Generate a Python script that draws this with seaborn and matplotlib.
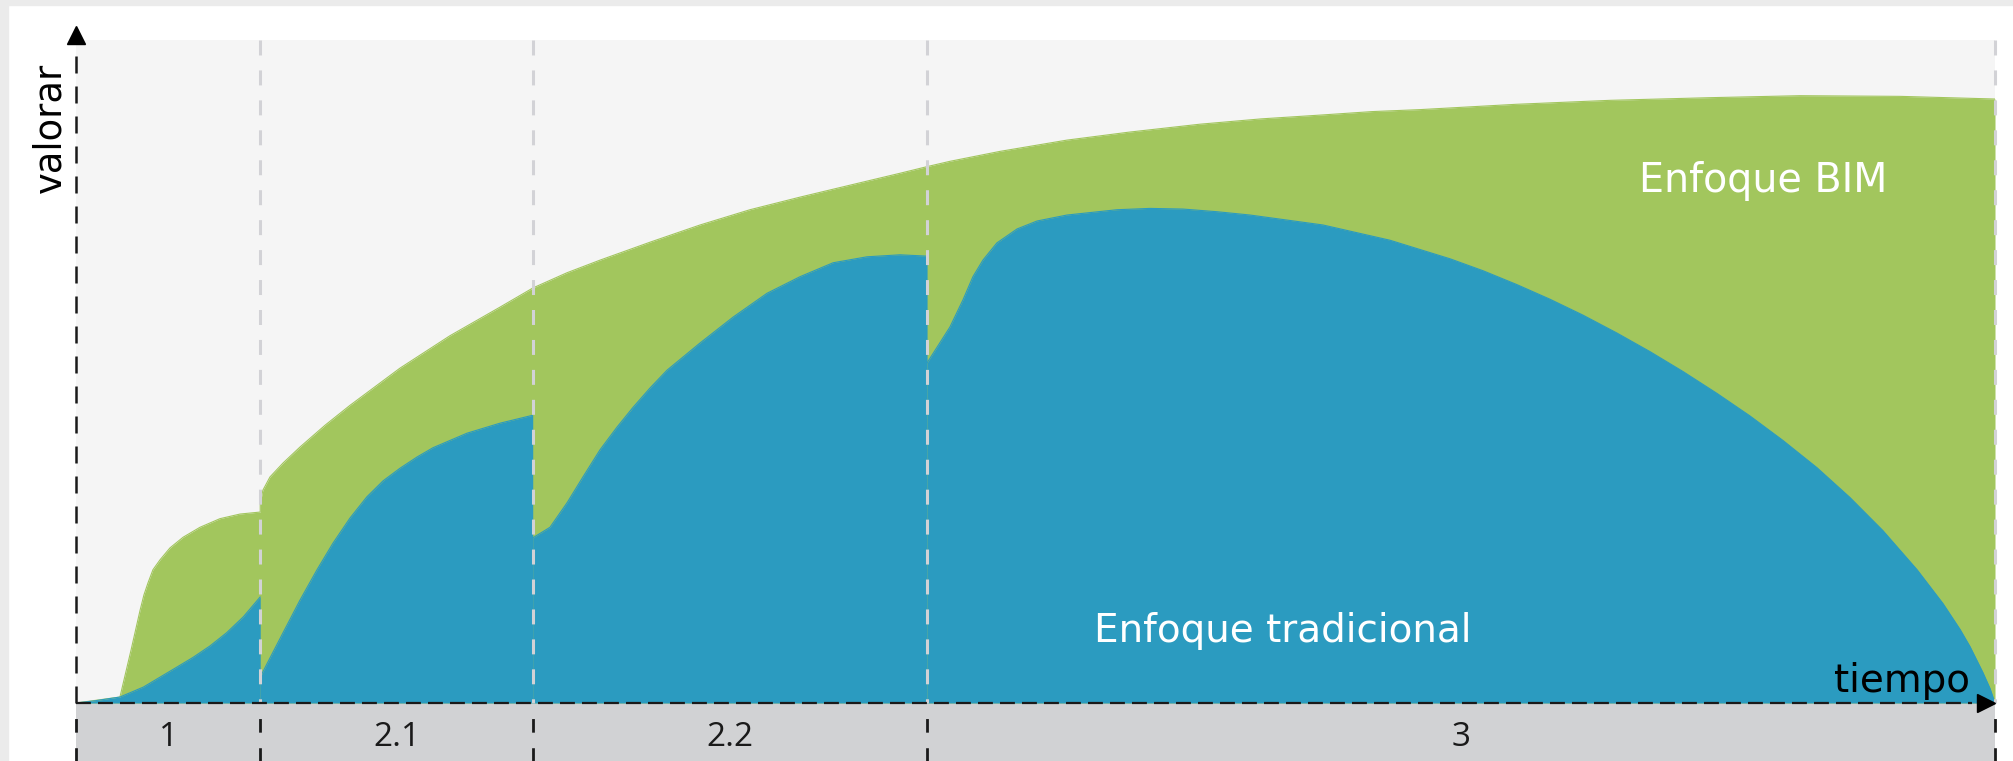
import numpy as np
import pandas as pd
import matplotlib
matplotlib.use("Agg")
import matplotlib.pyplot as plt
import seaborn as sns
from matplotlib.patches import Rectangle

# ---------------- data ----------------
phase_labels = ["1", "2.1", "2.2", "3"]
phase_bounds = [0, 9.6, 23.8, 44.35, 100]

# Enfoque BIM (upper envelope)
bim_t = [0, 2.29, 2.87, 3.34, 3.54, 3.75, 4.01, 4.38, 4.90, 5.58, 6.46, 7.50, 8.55, 9.6,
         9.6, 9.74, 10.11, 10.79, 11.67, 12.98, 14.28, 16.88, 19.49, 22.09, 23.81,
         25.59, 27.31, 29.91, 32.52, 35.12, 37.73, 40.33, 42.94, 44.35, 45.54, 48.15,
         51.64, 54.87, 58.57, 61.75, 64.98, 67.53, 70.04, 75.04, 79.94, 85.15, 89.84,
         95.05, 100]
bim_v = [0, 0.9, 8.0, 14.0, 16.3, 18.1, 20.1, 21.6, 23.4, 25.0, 26.5, 27.8, 28.5, 28.8,
         30.2, 32.1, 34.1, 36.2, 38.6, 41.9, 44.9, 50.5, 55.4, 59.7, 62.6,
         64.9, 66.8, 69.5, 72.1, 74.4, 76.3, 78.1, 79.9, 80.9, 81.7, 83.2,
         84.9, 86.1, 87.3, 88.1, 88.7, 89.2, 89.5, 90.3, 90.9, 91.3, 91.6,
         91.5, 91.1]

# Enfoque tradicional, one curve per phase
trad1_t = [0, 0.9, 2.29, 3.51, 4.38, 5.25, 6.11, 6.98, 7.85, 8.72, 9.6]
trad1_v = [0, 0.3, 0.9, 2.4, 3.9, 5.4, 6.9, 8.6, 10.6, 13.0, 16.0]

trad21_t = [9.6, 9.95, 10.79, 11.67, 12.56, 13.39, 14.28, 15.16, 16.00, 16.88,
            17.77, 18.60, 20.38, 22.09, 23.8]
trad21_v = [3.9, 5.9, 10.6, 15.5, 20.1, 24.1, 27.9, 31.1, 33.5, 35.4,
            37.1, 38.5, 40.7, 42.2, 43.4]

trad22_t = [23.8, 24.70, 25.59, 26.42, 27.31, 28.19, 29.03, 29.91, 30.80, 32.52,
            34.24, 36.01, 37.73, 39.45, 41.22, 42.94, 44.35]
trad22_v = [24.9, 26.5, 30.2, 34.1, 38.2, 41.6, 44.6, 47.5, 50.2, 54.3,
            58.2, 61.8, 64.3, 66.4, 67.3, 67.6, 67.4]

trad3_t = [44.35, 45.54, 46.22, 46.74, 47.26, 47.99, 49.04, 50.08, 51.64, 54.25,
           55.97, 57.69, 59.46, 61.18, 64.98, 68.47, 71.60, 73.32, 75.09, 76.81,
           78.53, 80.30, 82.02, 83.74, 85.51, 87.23, 88.95, 90.72, 92.44, 94.16,
           95.94, 97.29, 98.18, 98.70, 99.37, 99.74, 100]
trad3_v = [51.3, 56.7, 60.8, 64.3, 66.8, 69.4, 71.5, 72.7, 73.6, 74.4,
           74.6, 74.5, 74.1, 73.6, 72.1, 69.8, 67.0, 65.2, 63.1, 60.9,
           58.5, 55.8, 53.0, 50.0, 46.7, 43.3, 39.6, 35.5, 31.0, 26.0,
           20.1, 15.0, 11.1, 8.5, 4.6, 2.2, 0]

label_bim = "Enfoque BIM"
label_trad = "Enfoque tradicional"
x_label = "tiempo"
y_label = "valorar"

# ---------------- style ----------------
GREEN = "#a2c65d"
BLUE = "#2b9bc0"
PLOT_BG = "#f5f5f5"
BAND = "#d1d2d4"
GRAYDASH = "#d2d2d6"

sns.set_theme(style="white")
plt.rcParams["font.family"] = ["DejaVu Sans"]

W, H = 2013, 761
fig = plt.figure(figsize=(W / 100, H / 100), dpi=100, facecolor="white")

# outer light frame (screenshot edges)
fig.patches.append(Rectangle((0, 0), 8 / W, 1, transform=fig.transFigure,
                             color="#ebebeb", zorder=0))
fig.patches.append(Rectangle((0, 1 - 5 / H), 1, 5 / H, transform=fig.transFigure,
                             color="#ebebeb", zorder=0))

left, right = 76 / W, 1995 / W
base_y, top_y = 703, 40
ax = fig.add_axes([left, (H - base_y) / H, right - left, (base_y - top_y) / H])
ax.set_facecolor(PLOT_BG)
ax.set_xlim(0, 100)
ax.set_ylim(0, 100)
for s in ax.spines.values():
    s.set_visible(False)
ax.set_xticks([])
ax.set_yticks([])

# areas
bim_df = pd.DataFrame({"t": bim_t, "v": bim_v})
ax.fill_between(bim_df["t"], 0, bim_df["v"], color=GREEN, lw=0, zorder=1)
sns.lineplot(data=bim_df, x="t", y="v", estimator=None, sort=False, color=GREEN,
             lw=0.8, ax=ax, zorder=1)

for tt, vv in [(trad1_t, trad1_v), (trad21_t, trad21_v),
               (trad22_t, trad22_v), (trad3_t, trad3_v)]:
    d = pd.DataFrame({"t": tt, "v": vv})
    ax.fill_between(d["t"], 0, d["v"], color=BLUE, lw=0, zorder=2)
    sns.lineplot(data=d, x="t", y="v", estimator=None, sort=False, color=BLUE,
                 lw=0.8, ax=ax, zorder=2)
ax.set_xlabel("")
ax.set_ylabel("")

# light gray phase separators
for b in phase_bounds[1:]:
    ax.plot([b, b], [100, 0], color=GRAYDASH, lw=2.2,
            linestyle=(0, (4.9, 4.9)), clip_on=False, zorder=3)

# axes (black dashed with arrows)
ax.plot([0, 98.8], [0, 0], color="#1a1a1a", lw=1.6,
        linestyle=(0, (6.7, 3.2)), clip_on=False, zorder=4)
ax.plot([0, 0], [0, 98], color="#1a1a1a", lw=1.8,
        linestyle=(0, (6.8, 5.2)), clip_on=False, zorder=4)
ax.plot([0], [100.75], marker="^", markersize=13, color="black",
        clip_on=False, zorder=5)
ax.plot([99.53], [0], marker=">", markersize=13, color="black",
        clip_on=False, zorder=5)

# texts
ax.text(87.9, 78.7, label_bim, color="white", fontsize=28.5,
        ha="center", va="center", zorder=6)
ax.text(62.9, 10.9, label_trad, color="white", fontsize=28,
        ha="center", va="center", zorder=6)
ax.text(98.7, 1.6, x_label, color="black", fontsize=28,
        ha="right", va="baseline", zorder=6)
ax.text(-1.35, 86.7, y_label, color="black", fontsize=26.5, rotation=90,
        ha="center", va="center", zorder=6)

# bottom phase band
axb = fig.add_axes([left, 0, right - left, (H - base_y) / H])
axb.set_facecolor(BAND)
axb.set_xlim(0, 100)
axb.set_ylim(0, 1)
for s in axb.spines.values():
    s.set_visible(False)
axb.set_xticks([])
axb.set_yticks([])
for b in phase_bounds:
    axb.plot([b, b], [1, 0], color="#1a1a1a", lw=2.0,
             linestyle=(4.9, (4.9, 5.6)), clip_on=False)
for i, lab in enumerate(phase_labels):
    mid = (phase_bounds[i] + phase_bounds[i + 1]) / 2
    axb.text(mid, 0.40, lab, color="#1a1a1a", fontsize=24,
             family=["Open Sans", "DejaVu Sans"], ha="center", va="center")

# keep the plot axes (and its arrow heads) above the band
ax.set_zorder(3)
axb.set_zorder(1)

fig.savefig("out.png", dpi=100, facecolor="white")
